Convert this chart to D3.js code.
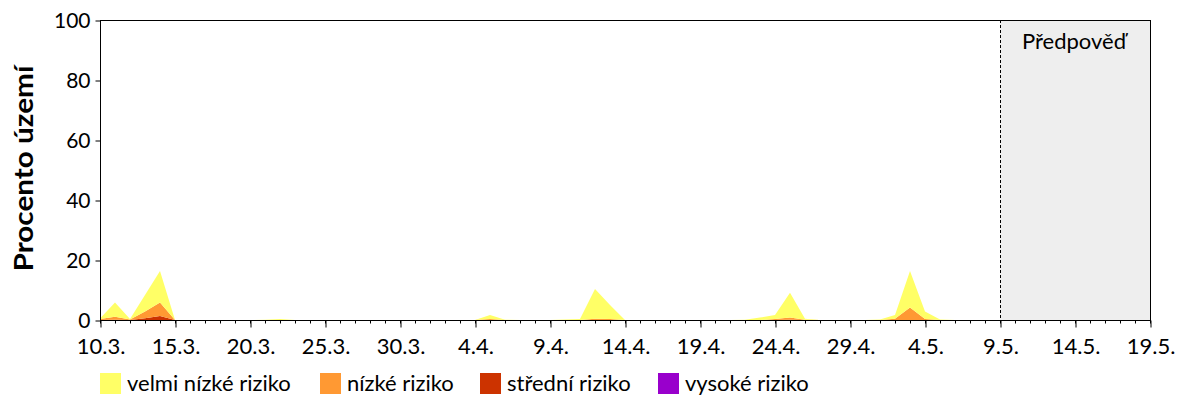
<!DOCTYPE html>
<html><head><meta charset="utf-8">
<script src="https://cdn.jsdelivr.net/npm/d3@7"></script>
<style>
html,body{margin:0;padding:0;background:#fff;}
svg text{font-family:Lato,"Open Sans",sans-serif;fill:#000;}
</style></head>
<body><svg id="c" width="1200" height="400"></svg>
<script>
// Days from 10.3. (index 0) to 19.5. (index 70)
const startDate = "2020-03-10";
const forecastStartDay = 60; // 9.5.
const xTickLabels = ["10.3.","15.3.","20.3.","25.3.","30.3.","4.4.","9.4.","14.4.","19.4.","24.4.","29.4.","4.5.","9.5.","14.5.","19.5."];
const yTicks = [0,20,40,60,80,100];
const categories = ["velmi nízké riziko","nízké riziko","střední riziko","vysoké riziko"];
const colors = ["#ffff66","#ff9933","#cc3300","#9900cc"];

// percent of territory in each category, per day (index 0 = 10.3.)
const velmiNizke = [0.2,4.7,0.1,5.5,10.5,0,0,0,0,0, 0,0.1,0.3,0,0,0,0,0,0,0, 0,0,0,0,0,0,1.4,0.1,0,0, 0,0.2,0.3,9.9,4.7,0,0,0,0,0, 0,0,0,0.1,0.8,1.4,8.3,0.3,0,0, 0,0,0.2,1.3,12.1,2.5,0.2,0,0,0, 0,0,0,0,0,0,0,0,0,0, 0];
const nizke      = [0.3,1.0,0.2,2.2,4.5,0,0,0,0,0, 0,0,0,0,0,0,0,0,0,0, 0,0,0,0,0,0,0.3,0,0,0, 0,0,0,0.4,0.3,0,0,0,0,0, 0,0,0,0,0,0.3,0.7,0.1,0,0, 0,0,0,0.4,4.2,0.3,0,0,0,0, 0,0,0,0,0,0,0,0,0,0, 0];
const stredni    = [0,0.1,0,0.6,1.3,0,0,0,0,0, 0,0,0,0,0,0,0,0,0,0, 0,0,0,0,0,0,0,0,0,0, 0,0,0,0,0,0,0,0,0,0, 0,0,0,0,0,0,0.1,0,0,0, 0,0,0,0,0,0,0,0,0,0, 0,0,0,0,0,0,0,0,0,0, 0];
const vysoke     = [0,0,0,0,0,0,0,0,0,0, 0,0,0,0,0,0,0,0,0,0, 0,0,0,0,0,0,0,0,0,0, 0,0,0,0,0,0,0,0,0,0, 0,0,0,0,0,0,0,0,0,0, 0,0,0,0,0,0,0,0,0,0, 0,0,0,0,0,0,0,0,0,0, 0];

const svg = d3.select("#c");
const M = {l:100, r:1150, t:20, b:320};
const day0 = new Date(startDate + "T00:00:00Z");
const dayMs = 86400000;
const x = d3.scaleUtc().domain([day0, new Date(+day0 + 70*dayMs)]).range([M.l, M.r]);
const y = d3.scaleLinear().domain([0,100]).range([M.b, M.t]);

const rows = velmiNizke.map((v,i)=>({date:new Date(+day0 + i*dayMs), velmi:v, nizke:nizke[i], stredni:stredni[i], vysoke:vysoke[i]}));
const keys = ["vysoke","stredni","nizke","velmi"];
const keyColor = {velmi:colors[0], nizke:colors[1], stredni:colors[2], vysoke:colors[3]};

// forecast background
const fx = x(new Date(+day0 + forecastStartDay*dayMs));
svg.append("rect").attr("x",fx).attr("y",M.t).attr("width",M.r-fx).attr("height",M.b-M.t).attr("fill","#eeeeee");

const stack = d3.stack().keys(keys)(rows);
const area = d3.area().x(d=>x(d.data.date)).y0(d=>y(d[0])).y1(d=>y(d[1]));
svg.append("g").selectAll("path").data(stack).join("path")
  .attr("d",area).attr("fill",d=>keyColor[d.key]).attr("stroke","none");

// dashed forecast line
svg.append("line").attr("x1",fx+0.5).attr("x2",fx+0.5).attr("y1",M.t).attr("y2",M.b)
  .attr("stroke","#000").attr("stroke-width",1).attr("stroke-dasharray","3,2");
svg.append("text").attr("x",(fx+M.r)/2-1).attr("y",49).attr("text-anchor","middle")
  .attr("font-size",22).text("Předpověď");

// frame
svg.append("rect").attr("x",M.l+0.5).attr("y",M.t+0.5).attr("width",M.r-M.l).attr("height",M.b-M.t)
  .attr("fill","none").attr("stroke","#000").attr("stroke-width",1);

// x axis: minor daily ticks
const allDays = d3.range(0,71).map(i=>new Date(+day0 + i*dayMs));
svg.append("g").selectAll("line").data(allDays).join("line")
  .attr("x1",d=>Math.round(x(d))+0.5).attr("x2",d=>Math.round(x(d))+0.5)
  .attr("y1",M.b).attr("y2",M.b+3.5).attr("stroke","#000");
const majorDays = xTickLabels.map((l,i)=>new Date(+day0 + i*5*dayMs));
const xAxis = d3.axisBottom(x).tickValues(majorDays).tickSize(7).tickPadding(11)
  .tickFormat((d,i)=>xTickLabels[i]);
const gx = svg.append("g").attr("transform",`translate(0.5,${M.b+0.5})`).call(xAxis);
gx.select(".domain").remove();
gx.selectAll("text").attr("font-size",22).attr("font-family","Lato").attr("fill","#000");

// y axis
const yAxis = d3.axisLeft(y).tickValues(yTicks).tickSize(5).tickPadding(5);
const gy = svg.append("g").attr("transform",`translate(${M.l+0.5},0.5)`).call(yAxis);
gy.select(".domain").remove();
gy.selectAll("text").attr("font-size",21).attr("font-family","Lato").attr("fill","#000");

svg.append("text").attr("transform",`translate(33,168.5) rotate(-90)`)
  .attr("text-anchor","middle").attr("font-size",27).attr("font-weight","bold")
  .attr("textLength",206).attr("lengthAdjust","spacingAndGlyphs").text("Procento území");

// legend
const legX = [100,320,480,658];
const lg = svg.append("g").selectAll("g").data(categories).join("g")
  .attr("transform",(d,i)=>`translate(${legX[i]},373)`);
lg.append("rect").attr("width",21).attr("height",21).attr("fill",(d,i)=>colors[i]);
lg.append("text").attr("x",27).attr("y",18).attr("font-size",22).text(d=>d);
</script></body></html>
